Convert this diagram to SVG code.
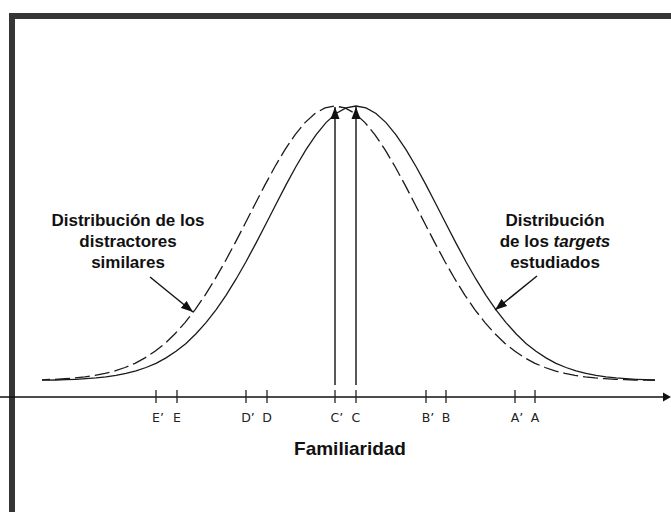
<svg xmlns="http://www.w3.org/2000/svg" width="671" height="512" viewBox="0 0 671 512">
<style>
.curve{fill:none;stroke:#1a1a1a;stroke-width:1.3}
.dash{stroke-dasharray:15 5}
.ln{stroke:#111;stroke-width:1.4;fill:none}
.tick{stroke:#222;stroke-width:1.3}
.lbl{font-family:"Liberation Sans",Arial,sans-serif;font-weight:bold;font-size:17px;fill:#111;text-anchor:middle}
.tl{font-family:"DejaVu Sans",Verdana,sans-serif;font-size:12.5px;fill:#222}
</style>
<defs>
<marker id="ah" markerUnits="userSpaceOnUse" markerWidth="12" markerHeight="10" viewBox="0 0 12 10" refX="12" refY="5" orient="auto">
<path d="M0,0.5 L12,5 L0,9.5 Z" fill="#111"/>
</marker>
<clipPath id="cc"><rect x="42" y="0" width="613" height="512"/></clipPath>
<path id="g" d="M-320,380.3 L-310,380.15 L-300,380 L-290,379.7 L-280,379.3 L-270,378.7 L-260,377.95 L-250,376.9 L-240,375.4 L-230,373.4 L-220,370.9 L-210,367.5 L-200,363.3 L-190,357.9 L-180,351.3 L-170,343.4 L-160,333.8 L-150,322.6 L-140,309.8 L-130,295.3 L-120,279.2 L-110,261.7 L-100,243.1 L-90,223.8 L-80,204.2 L-70,184.9 L-60,166.5 L-50,149.6 L-40,134.8 L-30,122.6 L-20,113.5 L-10,107.9 L0,106 L10,107.9 L20,113.5 L30,122.6 L40,134.8 L50,149.6 L60,166.5 L70,184.9 L80,204.2 L90,223.8 L100,243.1 L110,261.7 L120,279.2 L130,295.3 L140,309.8 L150,322.6 L160,333.8 L170,343.4 L180,351.3 L190,357.9 L200,363.3 L210,367.5 L220,370.9 L230,373.4 L240,375.4 L250,376.9 L260,377.95 L270,378.7 L280,379.3 L290,379.7 L300,380 L310,380.15 L320,380.3"/>
</defs>
<rect width="671" height="512" fill="#fff"/>
<g id="frame" fill="#353535">
<rect x="9" y="13" width="662" height="6"/>
<rect x="9" y="13" width="6" height="499"/>
</g>
<g id="curves" clip-path="url(#cc)">
<use href="#g" class="curve" transform="translate(356,0)"/>
<use href="#g" class="curve dash" transform="translate(335,0)"/>
</g>
<g id="axis">
<line x1="0" y1="397" x2="664" y2="397" stroke="#111" stroke-width="1.4"/>
<path d="M663,392.5 L671,397 L663,401.5 Z" fill="#111"/>
<g class="tick">
<line x1="156" y1="390" x2="156" y2="403"/>
<line x1="177" y1="390" x2="177" y2="403"/>
<line x1="246" y1="390" x2="246" y2="403"/>
<line x1="267" y1="390" x2="267" y2="403"/>
<line x1="335" y1="390" x2="335" y2="403"/>
<line x1="356" y1="390" x2="356" y2="403"/>
<line x1="426" y1="390" x2="426" y2="403"/>
<line x1="446" y1="390" x2="446" y2="403"/>
<line x1="515" y1="390" x2="515" y2="403"/>
<line x1="535" y1="390" x2="535" y2="403"/>
</g>
<g class="tl">
<text x="152" y="421.5">E’</text>
<text x="173" y="421.5">E</text>
<text x="241.2" y="421.5">D’</text>
<text x="262.2" y="421.5">D</text>
<text x="330.6" y="421.5">C’</text>
<text x="351.6" y="421.5">C</text>
<text x="421.7" y="421.5">B’</text>
<text x="441.7" y="421.5">B</text>
<text x="510.7" y="421.5">A’</text>
<text x="530.7" y="421.5">A</text>
</g>
</g>
<g id="connectors">
<line class="ln" x1="335" y1="385" x2="335" y2="107" marker-end="url(#ah)"/>
<line class="ln" x1="356" y1="385" x2="356" y2="107" marker-end="url(#ah)"/>
<line class="ln" x1="150" y1="277" x2="193" y2="312" marker-end="url(#ah)"/>
<line class="ln" x1="537" y1="276" x2="495" y2="310" marker-end="url(#ah)"/>
</g>
<g id="label-distractores" class="lbl">
<text x="128" y="226">Distribución de los</text>
<text x="128" y="247">distractores</text>
<text x="128" y="268">similares</text>
</g>
<g id="label-targets" class="lbl">
<text x="555" y="226">Distribución</text>
<text x="555" y="247">de los <tspan font-style="italic">targets</tspan></text>
<text x="555" y="268">estudiados</text>
</g>
<g id="title">
<text x="350" y="455" font-family="'Liberation Sans',Arial,sans-serif" font-weight="bold" font-size="19px" fill="#111" text-anchor="middle">Familiaridad</text>
</g>
</svg>
